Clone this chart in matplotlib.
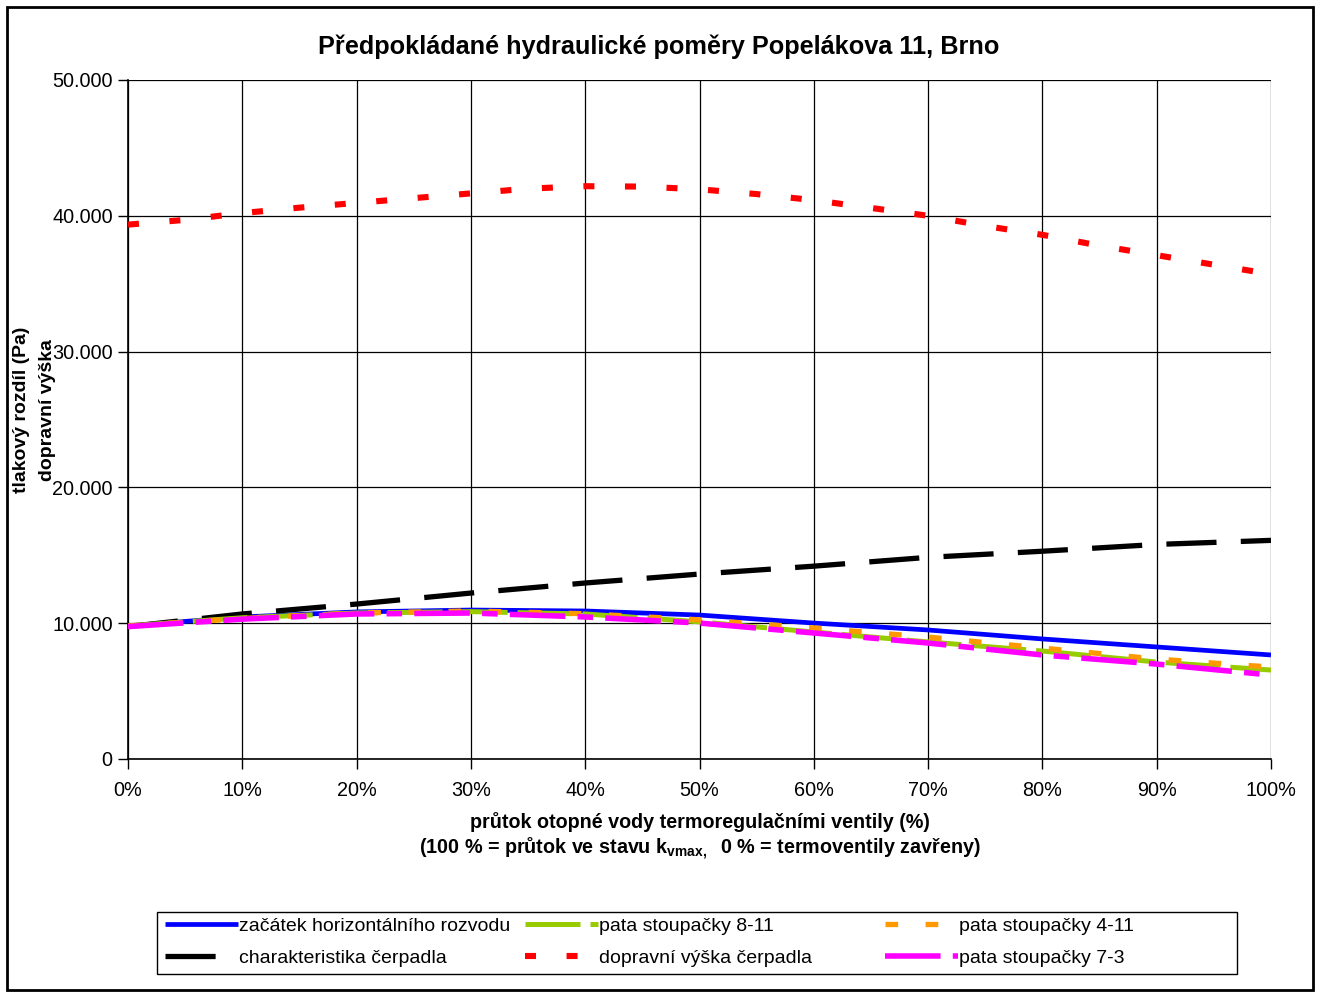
import matplotlib
matplotlib.use("Agg")
import matplotlib.pyplot as plt
from matplotlib.patches import Rectangle
from matplotlib.ticker import FuncFormatter, MultipleLocator

plt.rcParams['font.family'] = ['Liberation Sans', 'DejaVu Sans']
plt.rcParams['mathtext.fontset'] = 'custom'
plt.rcParams['mathtext.rm'] = 'Liberation Sans'
plt.rcParams['mathtext.bf'] = 'Liberation Sans:bold'

# ---- data ----
x10 = [0, 10, 20, 30, 40, 50, 60, 70, 80, 90, 100]
x5 = [0, 5, 10, 15, 20, 25, 30, 35, 40, 45, 50, 55, 60, 65, 70, 75, 80, 85, 90, 95, 100]

zacatek = [9800, 10460, 10830, 10970, 10900, 10600, 10010, 9500, 8840, 8250, 7660]
charakteristika = [9750, 10680, 11410, 12220, 12960, 13620, 14200, 14850, 15300, 15800, 16100]
pata_8_11 = [9800, 10400, 10750, 10850, 10680, 10100, 9350, 8620, 7950, 7140, 6550]
dopravni = [39350, 39700, 40200, 40600, 40950, 41300, 41650, 42000, 42180, 42150, 41950,
            41600, 41150, 40580, 40000, 39250, 38600, 37800, 37100, 36400, 35700]
pata_4_11 = [9800, 10350, 10750, 10900, 10700, 10250, 9650, 8980, 8170, 7360, 6770]
pata_7_3 = [9750, 10300, 10680, 10750, 10460, 10010, 9280, 8540, 7660, 6990, 6180]

labels = ["začátek horizontálního rozvodu", "charakteristika čerpadla",
          "pata stoupačky 8-11", "dopravní výška čerpadla",
          "pata stoupačky 4-11", "pata stoupačky 7-3"]

title = "Předpokládané hydraulické poměry Popelákova 11, Brno"

W, H = 1320, 994
fig = plt.figure(figsize=(13.2, 9.94), dpi=100)
ax = fig.add_axes([128/W, 1-759/H, (1271-128)/W, (759-80)/H])

l_blue, = ax.plot(x10, zacatek, color='#0000FF', lw=3.4, solid_capstyle='butt', zorder=3)
l_black, = ax.plot(x10, charakteristika, color='black', lw=3.8, zorder=3)
l_black.set_dashes([9.5, 4.6])
l_green, = ax.plot(x10, pata_8_11, color='#99CC00', lw=3.6, zorder=3)
l_green.set_dashes([11, 2.0])
l_red, = ax.plot(x5, dopravni, color='#FF0000', lw=4.4, zorder=3)
l_red.set_dashes([1.8, 5.0])
l_orange, = ax.plot(x10, pata_4_11, color='#FF9900', lw=3.8, zorder=4)
l_orange.set_dashes([2.4, 5.2])
l_mag, = ax.plot(x10, pata_7_3, color='#FF00FF', lw=4.0, zorder=5)
l_mag.set_dashes([10, 2.2, 2.8, 2.2])

ax.set_xlim(0, 100)
ax.set_ylim(0, 50000)
ax.xaxis.set_major_locator(MultipleLocator(10))
ax.yaxis.set_major_locator(MultipleLocator(10000))
ax.xaxis.set_major_formatter(FuncFormatter(lambda v, p: f"{int(round(v))}%"))
ax.yaxis.set_major_formatter(FuncFormatter(lambda v, p: "0" if v == 0 else f"{int(v):,}".replace(",", ".")))
ax.grid(True, color='black', lw=0.9)
ax.set_axisbelow(True)
for s in ['top', 'right']:
    ax.spines[s].set_visible(False)
ax.spines['left'].set_linewidth(1.2)
ax.spines['bottom'].set_linewidth(1.2)
ax.tick_params(axis='both', labelsize=14.3, length=7, width=1, direction='out', pad=4)
ax.tick_params(axis='x', pad=9)

fig.text(659/W, 1-47/H, title, ha='center', va='center', fontsize=18.2, fontweight='bold')

fig.text(22/W, 1-410/H, "tlakový rozdíl (Pa)", rotation=90, ha='center', va='center',
         fontsize=14, fontweight='bold')
fig.text(48/W, 1-410/H, "dopravní výška", rotation=90, ha='center', va='center',
         fontsize=14, fontweight='bold')

fig.text(700/W, 1-822/H, "průtok otopné vody termoregulačními ventily (%)",
         ha='center', va='center', fontsize=14.2, fontweight='bold')
fig.text(700/W, 1-849/H,
         r"(100 % = průtok ve stavu k$_{\mathbf{vmax,}}$  0 % = termoventily zavřeny)",
         ha='center', va='center', fontsize=14.2, fontweight='bold')

# legend: three single-column legends inside one frame
cols = [([l_blue, l_black], labels[0:2], 163),
        ([l_green, l_red], labels[2:4], 523),
        ([l_orange, l_mag], labels[4:6], 883)]
for hs, ls, x0 in cols:
    lg = fig.legend(hs, ls, loc='upper left', bbox_to_anchor=(x0/W, 1-915/H),
                    fontsize=14, frameon=False, handlelength=3.75, handletextpad=0.05,
                    labelspacing=0.75, borderpad=0.1, borderaxespad=0)
fig.patches.append(Rectangle((157/W, 1-974/H), (1237-157)/W, (974-912)/H,
                             transform=fig.transFigure, fill=False, edgecolor='black', lw=1.0))

fig.patches.append(Rectangle((7/W, 4/H), 1306/W, 983/H, transform=fig.transFigure,
                             fill=False, edgecolor='black', lw=2))

fig.savefig("out.png", dpi=100)
